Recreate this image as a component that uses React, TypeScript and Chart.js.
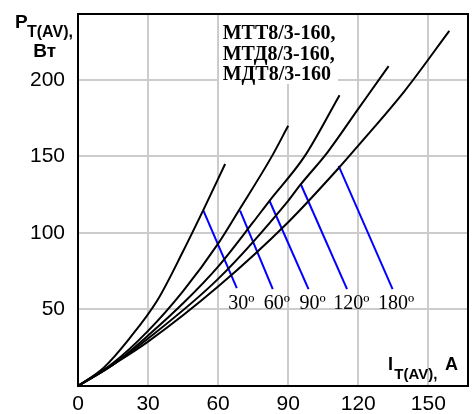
import React, { useEffect, useRef } from 'react';
import { Chart, registerables } from 'chart.js';

Chart.register(...registerables);

const xTicks = [0, 30, 60, 90, 120, 150];
const yTicks = [50, 100, 150, 200];
const xMax = 167;
const yMax = 243;

// Loss curves, one per conduction angle
const curve30X = [0, 11, 22, 34, 45, 54, 63];
const curve30Y = [0, 12, 31, 56, 88, 116, 145];
const curve60X = [0, 15, 30, 45, 60, 69, 83, 90];
const curve60Y = [0, 15, 36, 62, 93, 115, 150, 170];
const curve90X = [0, 15, 30, 45, 60, 75, 82, 97, 112];
const curve90Y = [0, 14, 33, 54, 78, 107, 121, 150, 190];
const curve120X = [0, 15, 30, 60, 90, 95, 107, 120, 133];
const curve120Y = [0, 14, 31, 70, 121, 131, 153, 181, 209];
const curve180X = [0, 15, 30, 60, 90, 112, 120, 140, 159];
const curve180Y = [0, 14, 29, 65, 107, 143, 157, 193, 232];

// Blue leader lines from curve to angle label
const angleLabels = ['30º', '60º', '90º', '120º', '180º'];
const blueTopX = [53.7, 69.4, 82, 95.4, 111.6];
const blueTopY = [114.5, 114.5, 121, 131.8, 143.8];
const blueBotX = [68, 83.4, 98.7, 115.2, 134.7];
const blueBotY = [63.9, 63.3, 63.3, 63.3, 63.3];
const labelX = [69.9, 85.2, 100.5, 117.1, 136.2];
const labelY = 50.6;

const modelLines = ['МТТ8/3-160,', 'МТД8/3-160,', 'МДТ8/3-160'];

const curveXs = [curve30X, curve60X, curve90X, curve120X, curve180X];
const curveYs = [curve30Y, curve60Y, curve90Y, curve120Y, curve180Y];

const deco = {
  id: 'deco',
  beforeDatasetsDraw(chart: any) {
    const { ctx, chartArea } = chart;
    ctx.save();
    ctx.fillStyle = '#ffffff';
    ctx.fillRect(chartArea.left + 141, chartArea.top, 119, 70);
    ctx.restore();
  },
  afterDatasetsDraw(chart: any) {
    const { ctx, chartArea, scales } = chart;
    const xs = scales.x;
    const ys = scales.y;
    ctx.save();
    // frame
    ctx.strokeStyle = '#000';
    ctx.lineWidth = 2;
    ctx.strokeRect(chartArea.left, chartArea.top, chartArea.right - chartArea.left, chartArea.bottom - chartArea.top);

    // model text
    ctx.fillStyle = '#000';
    ctx.font = 'bold 20px "Liberation Serif"';
    ctx.textAlign = 'left';
    ctx.textBaseline = 'alphabetic';
    modelLines.forEach((t, i) => {
      ctx.fillText(t, chartArea.left + 144.7, chartArea.top + 25.3 + i * 20.3);
    });

    // angle labels
    ctx.font = '20px "Liberation Serif"';
    ctx.textAlign = 'center';
    angleLabels.forEach((t, i) => {
      ctx.fillText(t, xs.getPixelForValue(labelX[i]), ys.getPixelForValue(labelY));
    });

    // y axis title
    ctx.textAlign = 'left';
    ctx.font = 'bold 19px "Liberation Sans"';
    ctx.fillText('P', 15, 28.3);
    ctx.font = 'bold 16px "Liberation Sans"';
    ctx.fillText('T(AV),', 27, 37.3);
    ctx.font = 'bold 19px "Liberation Sans"';
    ctx.fillText('Вт', 33.3, 57.3);

    // x axis title
    const bx = chartArea.right - 80;
    const by = chartArea.bottom - 16;
    ctx.font = 'bold 18px "Liberation Sans"';
    ctx.fillText('I', bx, by);
    ctx.font = 'bold 15px "Liberation Sans"';
    ctx.fillText('T(AV),', bx + 6.3, by + 9);
    ctx.font = 'bold 18px "Liberation Sans"';
    ctx.fillText('A', bx + 57, by);
    ctx.restore();
  },
};

export default function App() {
  const ref = useRef<HTMLCanvasElement | null>(null);
  useEffect(() => {
    if (!ref.current) return;
    const datasets: any[] = [];
    curveXs.forEach((xsArr, i) => {
      datasets.push({
        data: xsArr.map((x, j) => ({ x, y: curveYs[i][j] })),
        showLine: true,
        borderColor: '#000000',
        borderWidth: 2,
        pointRadius: 0,
        cubicInterpolationMode: 'monotone',
        fill: false,
      });
    });
    angleLabels.forEach((_, i) => {
      datasets.push({
        data: [
          { x: blueTopX[i], y: blueTopY[i] },
          { x: blueBotX[i], y: blueBotY[i] },
        ],
        showLine: true,
        borderColor: '#0000ff',
        borderWidth: 2,
        pointRadius: 0,
        tension: 0,
        fill: false,
      });
    });
    const tickFont = { family: '"Liberation Sans", Arial, sans-serif', size: 21 };
    const chart = new Chart(ref.current, {
      type: 'scatter',
      data: { datasets },
      options: {
        responsive: false,
        animation: false,
        devicePixelRatio: 1,
        layout: { padding: { top: 14, right: 6, left: 0, bottom: 0 } },
        plugins: { legend: { display: false }, tooltip: { enabled: false } },
        scales: {
          x: {
            type: 'linear',
            min: 0,
            max: xMax,
            afterBuildTicks: (s: any) => {
              s.ticks = xTicks.map((v) => ({ value: v }));
            },
            afterFit: (s: any) => {
              s.height = 28;
              s.paddingLeft = 0;
              s.paddingRight = 0;
              s.paddingTop = 0;
              s.paddingBottom = 0;
            },
            grid: { color: '#cccccc', lineWidth: 2, drawTicks: false },
            border: { display: false },
            ticks: { padding: 6, color: '#000', font: tickFont, maxRotation: 0, autoSkip: false },
          },
          y: {
            type: 'linear',
            min: 0,
            max: yMax,
            afterBuildTicks: (s: any) => {
              s.ticks = yTicks.map((v) => ({ value: v }));
            },
            afterFit: (s: any) => {
              s.width = 78;
              s.paddingLeft = 0;
              s.paddingRight = 0;
              s.paddingTop = 0;
              s.paddingBottom = 0;
            },
            grid: { color: '#cccccc', lineWidth: 2, drawTicks: false },
            border: { display: false },
            ticks: { padding: 13, color: '#000', font: tickFont, autoSkip: false },
          },
        },
      } as any,
      plugins: [deco],
    });
    return () => chart.destroy();
  }, []);
  return (
    <div style={{ position: 'absolute', left: 0, top: 0, width: 474, height: 414 }}>
      <canvas ref={ref} width={474} height={414} style={{ display: 'block' }} />
    </div>
  );
}
